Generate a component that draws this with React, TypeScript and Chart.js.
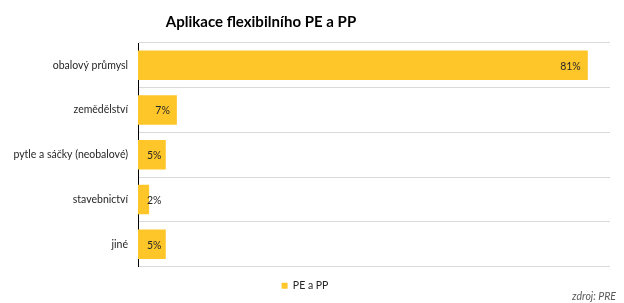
import React, { useEffect, useRef } from "react";
import { Chart, registerables } from "chart.js";

Chart.register(...registerables);

const categories = ["obalový průmysl", "zemědělství", "pytle a sáčky (neobalové)", "stavebnictví", "jiné"];
const values = [81, 7, 5, 2, 5];
const seriesName = "PE a PP";
const titleText = "Aplikace flexibilního PE a PP";
const sourceText = "zdroj: PRE";
const FONT = "Lato, 'Open Sans', sans-serif";
const BAR_COLOR = "#FFC629";

const extrasPlugin = {
  id: "extras",
  afterDatasetsDraw(chart: any) {
    const ctx = chart.ctx;
    const meta = chart.getDatasetMeta(0);
    const base = chart.scales.x.getPixelForValue(0);
    ctx.save();
    ctx.font = `10.5px ${FONT}`;
    ctx.fillStyle = "#262626";
    ctx.textBaseline = "middle";
    meta.data.forEach((bar: any, i: number) => {
      const txt = values[i] + "%";
      const w = ctx.measureText(txt).width;
      let right = bar.x - 7;
      if (right - w < base + 9) right = base + 9 + w;
      ctx.textAlign = "right";
      ctx.fillText(txt, right, bar.y + 1);
    });
    // title
    ctx.font = `bold 15px ${FONT}`;
    ctx.fillStyle = "#000";
    ctx.textAlign = "center";
    ctx.fillText(titleText, 261, 22);
    // source
    ctx.font = `italic 10.5px ${FONT}`;
    ctx.fillStyle = "#595959";
    ctx.textAlign = "right";
    ctx.fillText(sourceText, 616, 297);
    ctx.restore();
  },
};

export default function App() {
  const ref = useRef<HTMLCanvasElement>(null);
  useEffect(() => {
    document.body.style.margin = "0";
    const chart = new Chart(ref.current!, {
      type: "bar",
      data: {
        labels: categories,
        datasets: [
          {
            label: seriesName,
            data: values,
            backgroundColor: BAR_COLOR,
            categoryPercentage: 1,
            barPercentage: 0.66,
          },
        ],
      },
      options: {
        indexAxis: "y",
        animation: false,
        responsive: false,
        layout: { padding: { top: 43, right: 14, left: 0, bottom: 2 } },
        plugins: {
          title: { display: false },
          tooltip: { enabled: false },
          legend: {
            position: "bottom",
            labels: {
              boxWidth: 6,
              boxHeight: 6,
              padding: 14,
              color: "#262626",
              font: { family: FONT, size: 10.5 },
            },
          },
        },
        scales: {
          x: {
            display: false,
            min: 0,
            max: 85,
          },
          y: {
            afterFit(scale: any) {
              scale.width = 138;
            },
            grid: { offset: true, color: "#d9d9d9", drawTicks: false },
            border: { color: "#000", width: 1 },
            ticks: {
              color: "#262626",
              padding: 10,
              font: { family: FONT, size: 10.5 },
            },
          },
        },
      },
      plugins: [extrasPlugin],
    });
    return () => chart.destroy();
  }, []);
  return (
    <div style={{ position: "absolute", left: 0, top: 0, width: 624, height: 303 }}>
      <canvas ref={ref} width={624} height={303} style={{ width: 624, height: 303 }} />
    </div>
  );
}
